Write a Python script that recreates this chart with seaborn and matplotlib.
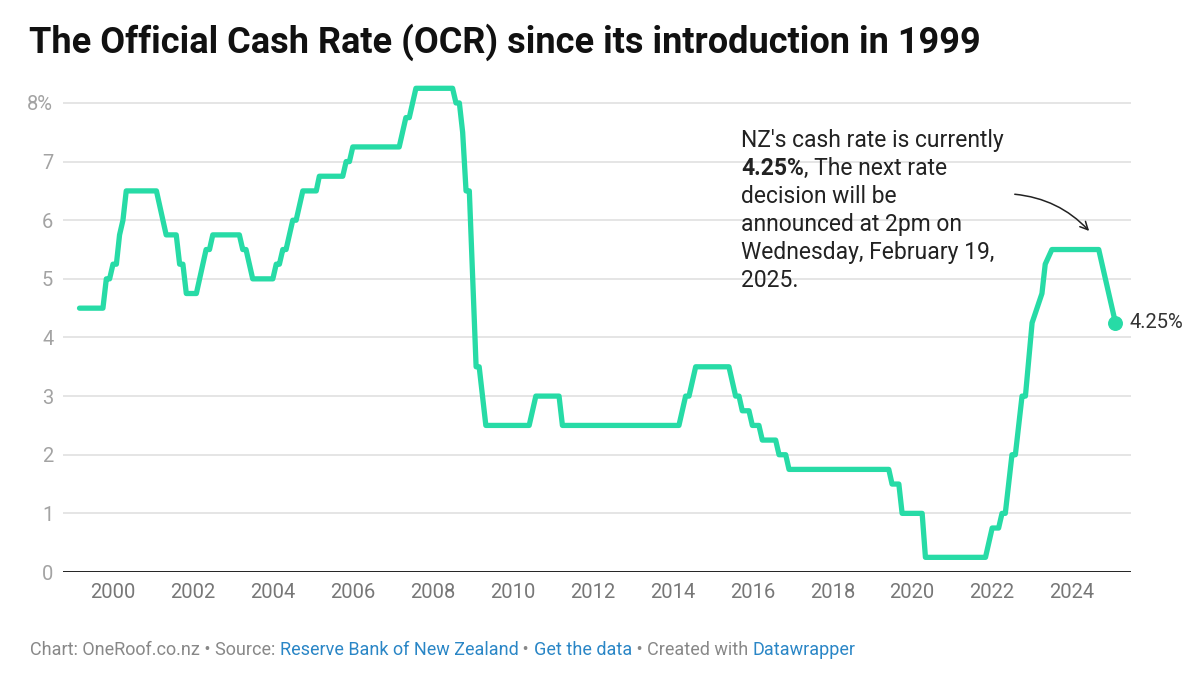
import pandas as pd
import seaborn as sns
import numpy as np
import matplotlib.pyplot as plt

# OCR values (corner points of the line, monthly dates)
dates = [
    "1999-03", "1999-10", "1999-11", "1999-12", "2000-01", "2000-02", "2000-03", "2000-04",
    "2000-05", "2001-02", "2001-05", "2001-08", "2001-09", "2001-10", "2001-11", "2002-02",
    "2002-05", "2002-06", "2002-07", "2003-03", "2003-04", "2003-05", "2003-07", "2004-01",
    "2004-02", "2004-03", "2004-04", "2004-05", "2004-07", "2004-08", "2004-10", "2005-02",
    "2005-03", "2005-10", "2005-11", "2005-12", "2006-01", "2007-03", "2007-05", "2007-06",
    "2007-08", "2008-07", "2008-08", "2008-09", "2008-10", "2008-11", "2008-12", "2009-02",
    "2009-03", "2009-05", "2010-06", "2010-08", "2011-03", "2011-04", "2014-03", "2014-05",
    "2014-06", "2014-08", "2015-06", "2015-08", "2015-09", "2015-10", "2015-12", "2016-01",
    "2016-03", "2016-04", "2016-08", "2016-09", "2016-11", "2016-12", "2019-06", "2019-07",
    "2019-09", "2019-10", "2020-04", "2020-05", "2021-11", "2022-01", "2022-03", "2022-04",
    "2022-05", "2022-07", "2022-08", "2022-10", "2022-11", "2023-01", "2023-04", "2023-05",
    "2023-07", "2024-09", "2024-11", "2025-02",
]
rates = [
    4.50, 4.50, 5.00, 5.00, 5.25, 5.25, 5.75, 6.00,
    6.50, 6.50, 5.75, 5.75, 5.25, 5.25, 4.75, 4.75,
    5.50, 5.50, 5.75, 5.75, 5.50, 5.50, 5.00, 5.00,
    5.25, 5.25, 5.50, 5.50, 6.00, 6.00, 6.50, 6.50,
    6.75, 6.75, 7.00, 7.00, 7.25, 7.25, 7.75, 7.75,
    8.25, 8.25, 8.00, 8.00, 7.50, 6.50, 6.50, 3.50,
    3.50, 2.50, 2.50, 3.00, 3.00, 2.50, 2.50, 3.00,
    3.00, 3.50, 3.50, 3.00, 3.00, 2.75, 2.75, 2.50,
    2.50, 2.25, 2.25, 2.00, 2.00, 1.75, 1.75, 1.50,
    1.50, 1.00, 1.00, 0.25, 0.25, 0.75, 0.75, 1.00,
    1.00, 2.00, 2.00, 3.00, 3.00, 4.25, 4.75, 5.25,
    5.50, 5.50, 5.00, 4.25,
]
tick_years = list(range(2000, 2025, 2))
y_ticks = [0, 1, 2, 3, 4, 5, 6, 7, 8]
y_labels = ["0", "1", "2", "3", "4", "5", "6", "7", "8%"]

df = pd.DataFrame({"date": pd.to_datetime(dates), "rate": rates})

LINE = "#27dba6"
W, H = 1183, 678

sns.set_theme(style="white")
plt.rcParams["font.family"] = ["Roboto", "DejaVu Sans"]

fig = plt.figure(figsize=(W / 100, H / 100), dpi=100)
ax = fig.add_axes([63 / W, 1 - 572 / H, (1131 - 63) / W, (572 - 79.5) / H])

sns.lineplot(data=df, x="date", y="rate", ax=ax, color=LINE, linewidth=3.8,
             solid_joinstyle="round", solid_capstyle="round", clip_on=False, zorder=3)
last = df.iloc[-1]
ax.scatter([last["date"]], [last["rate"]], s=95, color=LINE, zorder=4, clip_on=False)

ax.set_xlim(pd.Timestamp("1998-10-01"), pd.Timestamp("2025-06-23"))
ax.set_ylim(0, 8.4)
ax.set_xticks([pd.Timestamp(f"{y}-01-01") for y in tick_years])
ax.set_xticklabels([str(y) for y in tick_years])
ax.set_yticks(y_ticks)
ax.set_yticklabels(y_labels)
ax.set_xlabel("")
ax.set_ylabel("")

for s in ["top", "right", "left", "bottom"]:
    ax.spines[s].set_visible(False)
for t in y_ticks[1:]:
    ax.axhline(t, color="#e3e3e3", linewidth=1.3, zorder=1)
ax.axhline(0, color="#222222", linewidth=1.4, zorder=2)

ax.tick_params(axis="x", length=0, pad=8, labelsize=14.5, labelcolor="#777777")
ax.tick_params(axis="y", length=0, pad=7, labelsize=14.5, labelcolor="#a3a3a3")

# title
fig.text(29 / W, 1 - 53 / H, "The Official Cash Rate (OCR) since its introduction in 1999",
         fontsize=26, fontweight="bold", color="#111111", va="baseline", ha="left")

# end label
ax.annotate("4.25%", xy=(last["date"], last["rate"]), xytext=(10, 0),
            textcoords="offset points", va="center", ha="left",
            fontsize=14.5, color="#333333")

# annotation text block
ann_x = 741 / W
fs = 16.5
col = "#222222"
fig.text(ann_x, 1 - 147 / H, "NZ's cash rate is currently", fontsize=fs, color=col, va="baseline")
bold = fig.text(ann_x, 1 - 175 / H, "4.25%", fontsize=fs, color=col, va="baseline", fontweight="bold")
fig.canvas.draw()
ax.annotate(", The next rate", xy=(1, 0), xycoords=bold, va="bottom", ha="left",
            fontsize=fs, color=col)
rest = ["decision will be", "announced at 2pm on", "Wednesday, February 19,", "2025."]
for i, line in enumerate(rest):
    fig.text(ann_x, 1 - (203 + 28 * i) / H, line, fontsize=fs, color=col, va="baseline")

ax.annotate("", xy=(1091, H - 233), xycoords="figure pixels",
            xytext=(1012, H - 194), textcoords="figure pixels",
            arrowprops=dict(arrowstyle="->", color="#222222", lw=1.1,
                            connectionstyle="arc3,rad=-0.2", mutation_scale=14))

# footer
parts = [
    ("Chart: OneRoof.co.nz • Source: ", "#888888"),
    ("Reserve Bank of New Zealand", "#2a86c6"),
    (" • ", "#888888"),
    ("Get the data", "#2a86c6"),
    (" • Created with ", "#888888"),
    ("Datawrapper", "#2a86c6"),
]
prev = fig.text(30 / W, 1 - 655 / H, parts[0][0], fontsize=13, color=parts[0][1], va="baseline")
for txt, c in parts[1:]:
    fig.canvas.draw()
    prev = ax.annotate(txt, xy=(1, 0), xycoords=prev, va="bottom", ha="left",
                       fontsize=13, color=c)

fig.savefig("out.png", dpi=100)
